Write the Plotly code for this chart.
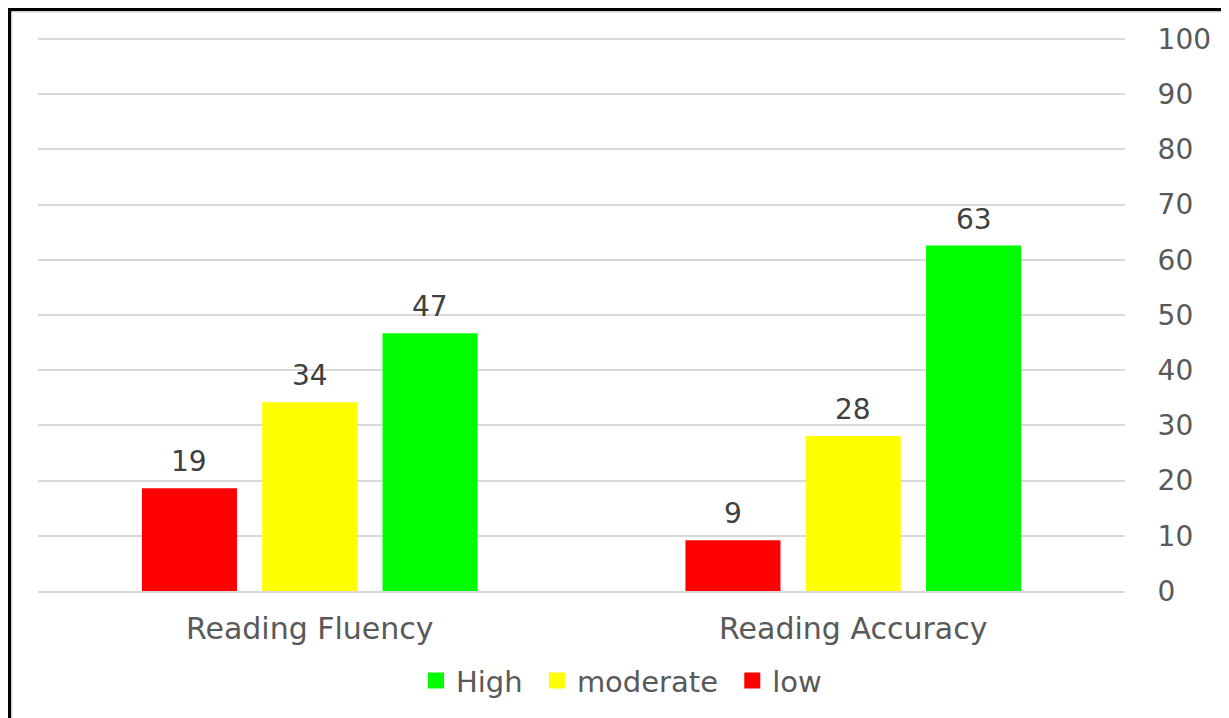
import plotly.graph_objects as go

categories = ["Reading Fluency", "Reading Accuracy"]
series_names = ["low", "moderate", "High"]
low_values = [18.6, 9.2]
moderate_values = [34.2, 28.1]
high_values = [46.7, 62.6]
y_ticks = [0, 10, 20, 30, 40, 50, 60, 70, 80, 90, 100]

colors = {"low": "#FF0000", "moderate": "#FFFF00", "High": "#00FF00"}
values = {"low": low_values, "moderate": moderate_values, "High": high_values}

OFF = 8  # browser body margin
SW, SH = 1229, 718
W, H = SW - OFF, SH - OFF
# plot area in screen pixels
PL, PR, PT, PB = 38, 1125, 38, 593
ml, mr, mt, mb = PL - OFF, W - (PR - OFF), PT - OFF, H - (PB - OFF)
pw, ph = W - ml - mr, H - mt - mb

FONT = "DejaVu Sans"
BARGAP = 0.336
GROUPGAP = 0.21

def px_x(p):  # screen px -> paper
    return (p - OFF - ml) / pw

def px_y(p):
    return 1 - (p - OFF - mt) / ph

fig = go.Figure()
n = len(series_names)
slot = (1 - BARGAP) / n
annotations = []
for i, name in enumerate(series_names):
    fig.add_trace(go.Bar(
        x=categories, y=values[name], name=name,
        marker=dict(color=colors[name], line=dict(width=0)),
        showlegend=False,
    ))
    offset = (i - (n - 1) / 2) * slot
    for ci, v in enumerate(values[name]):
        annotations.append(dict(
            x=ci + offset, y=v, xref="x", yref="y", text=f"{v:.0f}",
            showarrow=False, yanchor="bottom", yshift=8,
            font=dict(family=FONT, size=28, color="#404040"),
        ))

# legend entries (larger square symbols), order High, moderate, low
for name in reversed(series_names):
    fig.add_trace(go.Scatter(
        x=[None], y=[None], mode="markers", name=name + "\u00a0",
        marker=dict(symbol="square", size=16, color=colors[name]),
        showlegend=True,
    ))

shapes = [
    dict(type="line", xref="paper", yref="paper", x0=px_x(9.5), x1=px_x(9.5), y0=px_y(7.5), y1=px_y(SH + 5),
         line=dict(color="black", width=3.5)),
    dict(type="line", xref="paper", yref="paper", x0=px_x(7.5), x1=px_x(SW), y0=px_y(9.5), y1=px_y(9.5),
         line=dict(color="black", width=3.5)),
    dict(type="line", xref="paper", yref="paper", x0=px_x(12), x1=px_x(12), y0=px_y(12), y1=px_y(SH + 5),
         line=dict(color="#d9d9d9", width=1)),
    dict(type="line", xref="paper", yref="paper", x0=px_x(12), x1=px_x(SW), y0=px_y(12), y1=px_y(12),
         line=dict(color="#d9d9d9", width=1)),
]

fig.update_layout(
    width=W, height=H,
    margin=dict(l=ml, r=mr, t=mt, b=mb),
    paper_bgcolor="white", plot_bgcolor="white",
    barmode="group", bargap=BARGAP, bargroupgap=GROUPGAP,
    font=dict(family=FONT, color="#595959"),
    showlegend=True,
    legend=dict(orientation="h", x=px_x(626), xanchor="center", y=px_y(683), yanchor="middle",
                font=dict(family=FONT, size=29, color="#595959"),
                itemwidth=30, itemsizing="trace"),
    shapes=shapes,
    annotations=annotations,
    xaxis=dict(showgrid=False, showline=True, linecolor="#d9d9d9", linewidth=1.5,
               ticks="outside", ticklen=10, tickcolor="rgba(0,0,0,0)",
               tickfont=dict(family=FONT, size=30, color="#595959")),
    yaxis=dict(side="right", range=[0, 100.2], tickvals=y_ticks, showgrid=True,
               gridcolor="#d9d9d9", gridwidth=1.5, zeroline=False, showline=False,
               ticks="outside", ticklen=26, tickcolor="rgba(0,0,0,0)",
               tickfont=dict(family=FONT, size=28, color="#595959")),
)

fig.write_html("out.html")
